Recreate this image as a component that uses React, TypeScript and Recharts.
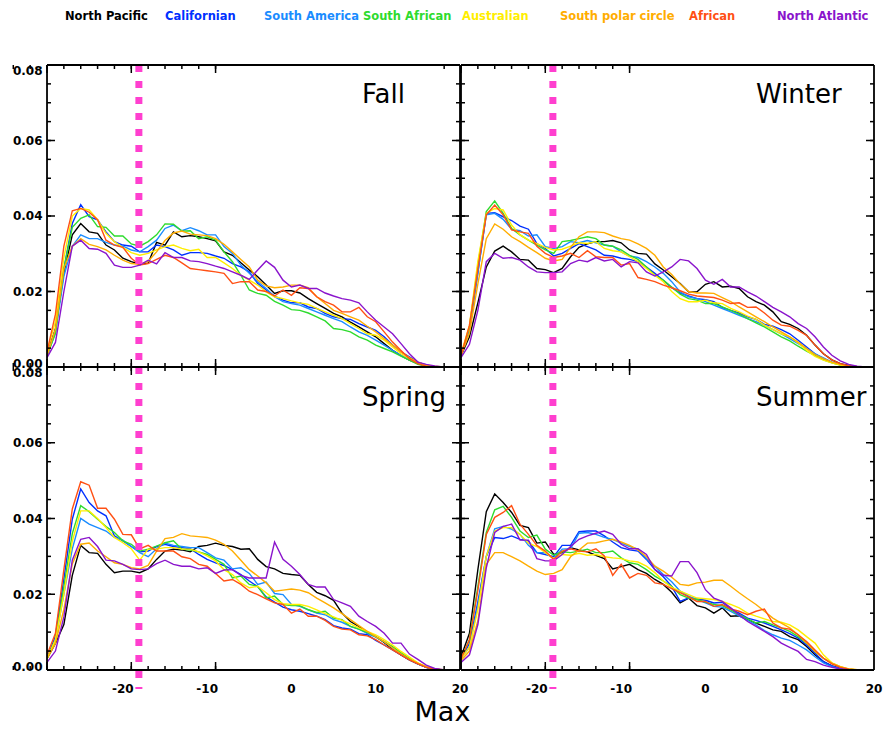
import { LineChart, Line, XAxis, YAxis, ReferenceLine } from "recharts";

// values are in thousandths (0.038 -> 38)
const xValues = [
  -29, -28, -27, -26, -25, -24, -23, -22, -21, -20,
  -19, -18, -17, -16, -15, -14, -13, -12, -11, -10,
  -9, -8, -7, -6, -5, -4, -3, -2, -1, 0,
  1, 2, 3, 4, 5, 6, 7, 8, 9, 10,
  11, 12, 13, 14, 15, 16, 17, 18, 19, 20,
];

const regionNames = [
  "North Pacific", "Californian", "South America", "South African",
  "Australian", "South polar circle", "African", "North Atlantic",
];
const regionColors = ["#000000", "#0030ff", "#1a8cff", "#2edb2e", "#ffee00", "#ffad00", "#ff5014", "#8a14cc"];
const legendX = [65, 165, 264, 363, 462, 560, 689, 777];

const X_MAJOR = [-20, -10, 0, 10, 20];
const X_LABELS = ["-20", "-10", "0", "10", "20"];
const X_MINOR = [-28, -26, -24, -22, -20, -18, -16, -14, -12, -10, -8, -6, -4, -2, 0, 2, 4, 6, 8, 10, 12, 14, 16, 18, 20];
const Y_MAJOR = [0, 20, 40, 60, 80];
const Y_LABELS = ["0.00", "0.02", "0.04", "0.06", "0.08"];
const Y_MINOR = [0, 5, 10, 15, 20, 25, 30, 35, 40, 45, 50, 55, 60, 65, 70, 75, 80];
const markerX = -18.1;

// Fall
const fallNorthPacific = [3.5, 10, 25, 35, 38, 35.8, 35.4, 32.3, 31, 28.8, 27.9, 27.2, 27.5, 33, 32.3, 35.8, 34.5, 34.8, 34.5, 34, 33.4, 30.5, 29.6, 27.6, 25.7, 23.9, 21.7, 19.5, 20.2, 20.2, 19.6, 18.1, 16.8, 15.5, 14.2, 13.3, 11.9, 10.6, 9.3, 8, 6.2, 4.4, 3, 1.8, 0.9, 0.3, 0.1, 0, 0, 0];
const fallCalifornian = [3, 10, 26, 38, 43, 39.8, 39, 35.8, 33.2, 32.3, 32, 30.5, 30.5, 32.3, 31.9, 31, 29.6, 30.3, 30.3, 30.1, 29.4, 28.8, 27.4, 26.5, 25.2, 22.1, 20.4, 18.8, 17.7, 17, 17, 15.9, 15.5, 14.2, 13.3, 12.8, 12.6, 11.5, 10.6, 9.7, 8, 5.8, 4, 2.7, 1.3, 0.5, 0.1, 0, 0, 0];
const fallSouthAmerica = [3, 9, 24, 32, 35, 34, 34, 33, 32.3, 32, 31, 30.5, 31.9, 33.6, 36.7, 37.6, 36.1, 36.9, 36.1, 35, 35, 31.9, 30.1, 27, 24.8, 22.6, 20.8, 18.6, 17.3, 16.8, 16.4, 15.5, 14.6, 13.7, 12.8, 12, 10.6, 9.3, 8.4, 7.1, 5.8, 4.4, 3.1, 1.9, 1.1, 0.4, 0.1, 0, 0, 0];
const fallSouthAfrican = [3, 9, 26, 37, 39.4, 40.3, 37.2, 37, 34.7, 34.7, 32.6, 32, 33.2, 35, 37.9, 37.8, 36, 36.1, 34, 34.5, 33.6, 30.5, 27.9, 24.3, 20.4, 19.5, 19, 17.4, 16.4, 15.2, 15, 14.3, 13.3, 12.2, 10.2, 9.9, 9.3, 8, 7.1, 5.8, 4.9, 4, 2.9, 1.8, 0.7, 0.2, 0, 0, 0, 0];
const fallAustralian = [4, 12, 29, 40, 42, 41.6, 39, 35.4, 33.2, 31.6, 30.3, 29.6, 30.1, 31, 31.9, 32.3, 31.4, 30.8, 31.2, 29, 29, 27.6, 26.1, 24.3, 23, 21.7, 19.9, 18.6, 18.1, 17.5, 17, 16.6, 15.5, 14.6, 13.7, 12.8, 11.5, 10.2, 8.8, 8.4, 7.1, 5.3, 3.5, 2.2, 1.2, 0.4, 0.1, 0, 0, 0];
const fallSouthPolar = [3, 10, 26, 32, 34, 32.5, 31.9, 31, 29.6, 28.3, 27.4, 27.2, 28, 30.5, 33.5, 35.5, 36, 35.2, 35, 34.8, 34, 32.5, 30.5, 28.5, 26.5, 23, 21.5, 21, 21.2, 21.7, 21.7, 21, 18.6, 16.8, 15, 14.2, 13.3, 12.4, 10.8, 9.3, 7.5, 5.8, 4, 2.5, 1.3, 0.5, 0.2, 0, 0, 0];
const fallAfrican = [4, 14, 32, 41.4, 42, 41, 39, 33.6, 32.3, 31.7, 28.8, 27, 27.4, 28.5, 29.6, 29, 27.6, 26.1, 25.8, 25.5, 25.2, 24.8, 22.1, 22.6, 22.6, 20.4, 20, 18.8, 20.4, 19, 21, 20.8, 18.6, 17.3, 16.4, 14.6, 14.6, 15.8, 13.3, 12, 9.3, 6.6, 4.4, 2.2, 0.9, 0.2, 0, 0, 0, 0];
const fallNorthAtlantic = [2.5, 6.5, 20, 32, 33.6, 31.4, 31.2, 30.1, 27, 26.4, 26.4, 27, 28.3, 27.3, 30.3, 29, 29, 28.1, 27.9, 27.4, 26.7, 26.1, 25.2, 24.3, 23.2, 25.7, 28.1, 26.4, 23, 21.2, 21.7, 20.8, 20.8, 19.6, 18.8, 18.1, 17.7, 17, 14.6, 12.4, 10.6, 8.8, 6.2, 3.5, 1.3, 0.7, 0.3, 0, 0, 0];

// Winter
const winterNorthPacific = [3, 8, 17, 26.5, 30.7, 32, 30.5, 28.5, 28.3, 26.1, 25.8, 25, 26.1, 29.2, 31.7, 32.6, 33.2, 33.2, 33.5, 32.9, 31, 30.1, 29.9, 27.3, 25.7, 23.9, 22.1, 19.9, 19.9, 21.9, 22.6, 21.2, 21.4, 20.8, 18.6, 17.3, 16.4, 14.6, 12, 11.3, 10.2, 8.4, 5.8, 3.5, 1.9, 0.9, 0.4, 0.1, 0, 0];
const winterCalifornian = [3, 10, 25, 40.7, 40.9, 39.8, 38.8, 37.3, 36.5, 32.7, 31.4, 29.4, 30.1, 31.4, 32.7, 31.9, 31, 29.6, 29.4, 28.8, 28.5, 27.9, 26.5, 24.8, 23, 21, 19.6, 18.8, 18.1, 17.8, 17.3, 15.8, 15, 14.3, 13.3, 12.6, 11.3, 10.8, 9.9, 8.8, 7.1, 5.3, 3.5, 2.2, 1.3, 0.6, 0.2, 0, 0, 0];
const winterSouthAmerica = [3, 10, 25, 40.3, 40.7, 39.1, 36.5, 36.1, 34.7, 35, 31.9, 31.4, 31.9, 33.2, 32.9, 33.5, 32.9, 32.3, 32, 30.5, 29.4, 29, 27.9, 26.5, 24.8, 22.6, 19.9, 18.6, 18.1, 17.3, 16.4, 15.5, 14.6, 13.7, 12.8, 12, 11.1, 9.9, 8.8, 7.5, 6.2, 4.9, 3.5, 2.4, 1.3, 0.6, 0.2, 0, 0, 0];
const winterSouthAfrican = [3, 10.6, 27, 41.2, 44, 40.7, 36.7, 35, 33.6, 32.3, 31, 30.1, 33.2, 33.5, 34, 34.5, 34, 32.3, 32, 31, 29.6, 28.5, 26.5, 24.3, 23, 21.2, 19.3, 18.1, 17.7, 16.8, 16.8, 15.9, 15, 14, 12.8, 11.7, 10.6, 9.3, 8, 6.9, 5.5, 4.2, 3.1, 1.9, 1.1, 0.5, 0.1, 0, 0, 0];
const winterAustralian = [3.5, 11, 28, 40.7, 42, 41.6, 37.6, 35, 33.6, 32.7, 31.7, 31, 31.2, 32, 32.9, 32.7, 33.2, 31.4, 30.8, 30.5, 29.2, 27.9, 26.1, 24.3, 22.6, 20, 18.1, 17.3, 17.3, 17.7, 17, 16.8, 15.5, 14.6, 13.5, 12.6, 11.1, 9.9, 8.8, 8, 6.4, 4.4, 2.8, 1.8, 1.1, 0.5, 0.2, 0, 0, 0];
const winterSouthPolar = [3, 9, 22, 34, 37.9, 36.5, 34.5, 33.2, 31.7, 30.3, 28.8, 28.1, 28.5, 31.7, 34.5, 35.8, 35.8, 35.6, 34.7, 34, 33.6, 32.6, 31.4, 29.6, 26.5, 24.5, 22, 20, 19.6, 19.6, 19.5, 18.4, 17.3, 15.9, 14.6, 13.3, 12, 10.6, 9.3, 8, 6.6, 4.9, 3.3, 2.2, 1.3, 0.7, 0.3, 0.1, 0, 0];
const winterAfrican = [3, 11, 26, 40.3, 42.9, 40.3, 36.3, 35.8, 35.4, 32, 30.1, 29, 29.4, 30.1, 29, 30.8, 29.2, 29, 29, 27, 27.4, 23.7, 23.2, 22.6, 21.7, 21, 20.2, 19.3, 18.8, 18.6, 18.4, 17.7, 16.8, 17, 15.8, 15.9, 14.3, 12.4, 11.1, 10.8, 9.7, 8.4, 5.8, 3.5, 1.9, 0.9, 0.3, 0.1, 0, 0];
const winterNorthAtlantic = [2.5, 6, 15, 27.9, 30.1, 28.8, 29, 28.3, 26.5, 25.2, 25, 25, 25.2, 27.4, 28.3, 27.9, 29, 28.1, 28.5, 26.5, 27.9, 27.6, 25.2, 24.1, 25.2, 26.5, 28.5, 28.1, 26.1, 23, 21.9, 23.2, 21.2, 21.2, 19.9, 18.8, 17.3, 15.8, 14.6, 13.3, 11.5, 10.2, 8, 5.3, 3.1, 1.6, 0.7, 0.2, 0, 0];

// Spring
const springNorthPacific = [3, 7, 12, 25, 32.9, 31, 30.8, 27.9, 25.7, 26.1, 26.1, 25.7, 26.7, 29.2, 31.4, 31.9, 31.7, 31.2, 32.6, 32.9, 33.5, 32.9, 32.6, 31.9, 32, 29.2, 27.3, 26.7, 25.5, 25.2, 25, 22.6, 20.5, 19.6, 18.4, 15, 12.8, 11.5, 9.7, 8.8, 7.3, 5.5, 4, 2.7, 1.6, 0.7, 0.2, 0, 0, 0];
const springCalifornian = [3, 9, 24, 39.8, 47.8, 44.2, 42, 40.7, 35.4, 34.1, 32.6, 31.2, 31.4, 32.6, 33.2, 32.6, 32.3, 32, 30.5, 29.2, 28.3, 27.6, 26.5, 25.2, 23.5, 22, 19.3, 17.9, 16.6, 15.9, 15.5, 14.9, 14.2, 13.3, 11.7, 11.1, 10.8, 9.6, 9.3, 7.8, 6.6, 5.3, 4, 2.7, 1.6, 0.7, 0.2, 0, 0, 0];
const springSouthAmerica = [3, 8, 20, 32, 40, 38.5, 37.6, 36.7, 35, 34.3, 32.6, 31, 29.9, 32, 33.5, 32.9, 32.6, 32.3, 32.3, 31, 29.6, 29, 26.7, 27, 25.5, 22.6, 23.2, 20.2, 19.9, 17.3, 16.8, 15.9, 15, 14.6, 13.3, 12.6, 11.5, 10.8, 9.7, 8.7, 7.5, 5.8, 4.2, 2.8, 1.6, 0.7, 0.2, 0, 0, 0];
const springSouthAfrican = [3, 8, 22, 36, 43.4, 41.8, 39.8, 37.9, 36.3, 34.1, 33.2, 31.4, 31.9, 32.7, 33.6, 34.1, 31.9, 31.7, 31.2, 30.5, 29.2, 27.9, 24.3, 24.8, 22.6, 22.1, 19, 19.5, 17.3, 17, 17, 15.9, 15.2, 15.5, 13.7, 13.3, 11.5, 10.8, 9.9, 8.8, 7.5, 6.2, 4.6, 3.1, 1.8, 0.8, 0.2, 0, 0, 0];
const springAustralian = [3, 8, 20, 34, 42, 42, 40, 37.6, 35, 33.6, 32, 29, 31.9, 31.9, 32.3, 32.3, 31.9, 31.9, 31.2, 30.1, 28.8, 26.5, 25.2, 23, 21.7, 22.1, 20.4, 18.6, 17.5, 17.3, 17.3, 16.8, 15.9, 14.9, 14, 13.1, 12.2, 11.1, 10.2, 9.3, 8, 6.6, 4.9, 3.4, 1.9, 0.8, 0.2, 0, 0, 0];
const springSouthPolar = [3, 7, 16, 28, 33.2, 33.5, 31.4, 29.9, 28.3, 27.9, 27, 26.7, 27.6, 31.4, 34.7, 35, 36, 35.4, 35.2, 35, 34.3, 33.2, 31.4, 29, 26.5, 24.8, 23, 20.8, 21.1, 21.4, 21.1, 20.4, 19, 17.7, 16.4, 14.9, 13.3, 11.7, 10.2, 8.8, 7.5, 5.8, 4.2, 2.8, 1.8, 0.9, 0.3, 0.1, 0, 0];
const springAfrican = [4, 9.7, 26.5, 42.5, 49.7, 48.8, 42.7, 42.7, 39.8, 35.8, 35.7, 32, 32.9, 31.4, 31.4, 31.4, 29.9, 29.4, 27.9, 27.4, 25.5, 23.5, 23.9, 22.6, 20.8, 19.9, 18.8, 17.7, 17.3, 15, 16.1, 14.2, 14.2, 13.1, 11.5, 10.8, 10.6, 9.3, 9, 8, 6.6, 5.3, 4, 2.7, 1.6, 0.7, 0.2, 0, 0, 0];
const springNorthAtlantic = [2, 5, 14, 29, 34.5, 35, 32.6, 29, 28.8, 27.9, 26.7, 26.5, 26.7, 28.1, 29, 27.9, 27.4, 27.4, 26.7, 27, 25.5, 26.4, 26.5, 25, 24.3, 24.3, 24.3, 33.8, 29.2, 27.4, 25.2, 22.6, 21.9, 21.9, 18.6, 17.7, 16.8, 14.2, 12.8, 11.5, 9.7, 7.1, 7.1, 4.2, 2.8, 1.3, 0.4, 0.1, 0, 0];

// Summer
const summerNorthPacific = [3.5, 9.7, 26.5, 41.8, 46.5, 44.2, 41.6, 38.2, 37.6, 33.5, 33.8, 30.5, 31, 32.3, 31.7, 31.2, 30.3, 29.4, 26.7, 27.3, 27.9, 26.5, 25.5, 23.9, 22.6, 20.5, 17.7, 19, 17, 16.4, 15, 16.4, 14.2, 14.3, 13.3, 12.4, 11.5, 10.6, 10.2, 8.8, 8, 6.2, 4, 2.2, 1.1, 0.4, 0.1, 0, 0, 0];
const summerCalifornian = [3, 7, 18, 30, 35, 34.7, 35.4, 34.5, 34.1, 31, 30.5, 29.9, 32.9, 32.9, 36.5, 36.7, 36.7, 35.4, 33.8, 32.3, 31.7, 31.4, 29.2, 26.5, 24.6, 22.1, 18.1, 19, 18.8, 18.4, 17.7, 17.9, 16.1, 15, 13.7, 13.1, 12.4, 11.5, 10.6, 9.6, 8.4, 6.6, 4.4, 2.2, 1.1, 0.4, 0.1, 0, 0, 0];
const summerSouthAmerica = [3, 6, 17, 30, 37.3, 37.9, 37.2, 35.8, 32.9, 31, 31, 29.4, 31.9, 32, 36.1, 36.3, 35.8, 35, 34.5, 33.5, 32.6, 31.9, 29.4, 27.4, 25.2, 23.3, 20.8, 19.5, 18.6, 17.7, 16.8, 16.6, 15.5, 14.3, 13.1, 11.9, 10.4, 9.3, 8.4, 7.8, 6.6, 5.3, 3.5, 1.9, 0.9, 0.3, 0.1, 0, 0, 0];
const summerSouthAfrican = [3, 8, 22, 36.3, 42.3, 43.2, 40.3, 36.7, 35, 35.6, 31.9, 30.3, 31.2, 31, 31.4, 31.9, 31, 31, 31.4, 29.6, 28.3, 27.9, 26.5, 24.8, 23.5, 22, 19.9, 19, 18.6, 17.9, 17.3, 17, 15.9, 14.6, 13.5, 12.4, 12.8, 11.9, 11.1, 10.2, 8.8, 7.1, 4.9, 3.1, 1.8, 0.8, 0.2, 0, 0, 0];
const summerAustralian = [3, 6, 16, 30, 36.7, 37.6, 37.6, 35.8, 33.5, 32.6, 31, 29.4, 30.5, 30.3, 30.8, 30.3, 30.5, 29.9, 29.6, 29.4, 28.8, 28.5, 27.4, 25.7, 23.5, 21.8, 20.8, 19.9, 19, 18.8, 18.6, 18.1, 17.3, 16.4, 15, 14.2, 13.5, 12.8, 12.6, 11.9, 10.6, 8.8, 7.1, 4, 1.9, 0.9, 0.3, 0.1, 0, 0];
const summerSouthPolar = [2.5, 5, 13, 27.9, 31, 31, 29.9, 28.8, 27.4, 26.1, 25.2, 25.5, 26.5, 29.9, 31.7, 33.5, 33.6, 34.1, 34.5, 33.8, 32.9, 31.7, 29.9, 27.4, 26.1, 24.5, 22.6, 22.3, 23, 23.2, 23.7, 23.7, 22.1, 20.4, 18.8, 17.3, 15.5, 13.7, 12.4, 11.1, 9.3, 7.1, 4.9, 3.1, 1.8, 0.9, 0.3, 0.1, 0, 0];
const summerAfrican = [3, 8, 21, 35.8, 40.3, 41.6, 43.4, 38.5, 35.8, 32.9, 31.4, 29.2, 31.4, 32, 31.4, 31.2, 32, 30.1, 25, 27.9, 24.3, 25.5, 25, 23, 22.6, 21.5, 20.4, 19.3, 18.1, 18.1, 16.8, 17.3, 16.1, 15.5, 14.6, 15.5, 16.1, 12.4, 11.1, 10.8, 9.3, 7.5, 5.3, 3.1, 1.6, 0.7, 0.2, 0, 0, 0];
const summerNorthAtlantic = [2, 4, 12, 27, 36.3, 37.9, 38.5, 34.3, 34.3, 29.4, 28.8, 28.8, 30.5, 32.6, 34.5, 35.4, 36.1, 36.7, 35.8, 33.2, 32, 32, 30.5, 26.5, 25, 24.8, 28.6, 28.6, 25.7, 21.2, 19, 18.1, 16.4, 14.6, 12.8, 11.5, 10.2, 8.8, 7.1, 6, 4.9, 2.8, 2.2, 1.3, 0.7, 0.3, 0.1, 0, 0, 0];

const fallSeries = [fallNorthPacific, fallCalifornian, fallSouthAmerica, fallSouthAfrican, fallAustralian, fallSouthPolar, fallAfrican, fallNorthAtlantic];
const winterSeries = [winterNorthPacific, winterCalifornian, winterSouthAmerica, winterSouthAfrican, winterAustralian, winterSouthPolar, winterAfrican, winterNorthAtlantic];
const springSeries = [springNorthPacific, springCalifornian, springSouthAmerica, springSouthAfrican, springAustralian, springSouthPolar, springAfrican, springNorthAtlantic];
const summerSeries = [summerNorthPacific, summerCalifornian, summerSouthAmerica, summerSouthAfrican, summerAustralian, summerSouthPolar, summerAfrican, summerNorthAtlantic];

function toRows(series: number[][]) {
  return xValues.map((x, i) => {
    const row: Record<string, number> = { x };
    series.forEach((s, k) => {
      row["s" + k] = s[i];
    });
    return row;
  });
}

const FONT = "'DejaVu Sans', sans-serif";
const X_DOMAIN: [number, number] = [-29, 20];
const Y_DOMAIN: [number, number] = [0, 80];
const THIN = 0.01; // axes need a non-zero size to render, but should take no room
const frame = { stroke: "#000", strokeWidth: 1.8 };
const tickStroke = { stroke: "#000", strokeWidth: 1.5 };

// tick marks only, no label text
const noLabel = () => <g />;

function XTick(props: any) {
  const { x, y, payload } = props;
  const label = X_LABELS[X_MAJOR.indexOf(payload.value)];
  return (
    <text x={x} y={y + 21} textAnchor="middle" fontFamily={FONT} fontWeight="bold" fontSize={12} fill="#000">
      {label}
    </text>
  );
}

function YTick(props: any) {
  const { x, y, payload } = props;
  const label = Y_LABELS[Y_MAJOR.indexOf(payload.value)];
  const shift = payload.value === 80 ? 5.5 : payload.value === 0 ? -3 : 0;
  return (
    <text x={x} y={y + shift} dy="0.36em" textAnchor="end" fontFamily={FONT} fontWeight="bold" fontSize={12} fill="#000">
      {label}
    </text>
  );
}

type PanelProps = {
  series: number[][];
  left: number;
  top: number;
  width: number;
  height: number;
  margin: { top: number; right: number; bottom: number; left: number };
  showX: boolean;
  showY: boolean;
  markerBottom: number;
};

function Panel({ series, left, top, width, height, margin, showX, showY, markerBottom }: PanelProps) {
  const rows = toRows(series);
  const common = { type: "number" as const, domain: X_DOMAIN, allowDataOverflow: true, interval: 0 as const, height: THIN };
  const commonY = { type: "number" as const, domain: Y_DOMAIN, allowDataOverflow: true, interval: 0 as const, width: THIN };
  return (
    <div style={{ position: "absolute", left, top }}>
      <LineChart width={width} height={height} data={rows} margin={margin}>
        <XAxis xAxisId="x" dataKey="x" {...common} ticks={X_MAJOR} axisLine={false} tickLine={false} tickSize={0}
          tick={showX ? (p: any) => <XTick {...p} /> : false} />
        <XAxis xAxisId="xbM" {...common} ticks={X_MAJOR} mirror tickSize={8} tick={noLabel} axisLine={frame} tickLine={tickStroke} />
        <XAxis xAxisId="xbm" {...common} ticks={X_MINOR} mirror tickSize={4} tick={noLabel} axisLine={false} tickLine={tickStroke} />
        <XAxis xAxisId="xtM" {...common} orientation="top" ticks={X_MAJOR} mirror tickSize={8} tick={noLabel} axisLine={frame} tickLine={tickStroke} />
        <XAxis xAxisId="xtm" {...common} orientation="top" ticks={X_MINOR} mirror tickSize={4} tick={noLabel} axisLine={false} tickLine={tickStroke} />
        <YAxis yAxisId="y" {...commonY} ticks={Y_MAJOR} axisLine={false} tickLine={false} tickSize={0} tickMargin={4.5}
          tick={showY ? (p: any) => <YTick {...p} /> : false} />
        <YAxis yAxisId="ylM" {...commonY} ticks={Y_MAJOR} mirror tickSize={8} tick={noLabel} axisLine={frame} tickLine={tickStroke} />
        <YAxis yAxisId="ylm" {...commonY} ticks={Y_MINOR} mirror tickSize={4} tick={noLabel} axisLine={false} tickLine={tickStroke} />
        <YAxis yAxisId="yrM" {...commonY} orientation="right" ticks={Y_MAJOR} mirror tickSize={8} tick={noLabel} axisLine={frame} tickLine={tickStroke} />
        <YAxis yAxisId="yrm" {...commonY} orientation="right" ticks={Y_MINOR} mirror tickSize={4} tick={noLabel} axisLine={false} tickLine={tickStroke} />
        {series.map((_, k) => (
          <Line
            key={k}
            xAxisId="x"
            yAxisId="y"
            type="linear"
            dataKey={"s" + k}
            stroke={regionColors[k]}
            strokeWidth={1.4}
            dot={false}
            activeDot={false}
            isAnimationActive={false}
          />
        ))}
        <ReferenceLine
          xAxisId="x"
          yAxisId="y"
          segment={[{ x: markerX, y: 80 }, { x: markerX, y: markerBottom }]}
          ifOverflow="visible"
          stroke="#ff3fcf"
          strokeWidth={7}
          strokeDasharray="7 9"
        />
      </LineChart>
    </div>
  );
}

export default function App() {
  const topM = { top: 25, right: 10, bottom: 18, left: 47 };
  const topMR = { top: 25, right: 9, bottom: 18, left: 21 };
  const botM = { top: 27, right: 10, bottom: 59, left: 47 };
  const botMR = { top: 27, right: 9, bottom: 59, left: 21 };
  return (
    <div style={{ position: "absolute", left: 0, top: 0, width: 883, height: 729, background: "#fff", overflow: "hidden" }}>
      <Panel series={fallSeries} left={0} top={40} width={470} height={345} margin={topM} showX={false} showY markerBottom={0} />
      <Panel series={winterSeries} left={440} top={40} width={443} height={345} margin={topMR} showX={false} showY={false} markerBottom={0} />
      <Panel series={springSeries} left={0} top={340} width={470} height={389} margin={botM} showX showY markerBottom={-5} />
      <Panel series={summerSeries} left={440} top={340} width={443} height={389} margin={botMR} showX showY={false} markerBottom={-5} />
      <svg width={883} height={729} style={{ position: "absolute", left: 0, top: 0, pointerEvents: "none" }}>
        {regionNames.map((name, k) => (
          <text key={name} x={legendX[k]} y={20} fontFamily={FONT} fontWeight="bold" fontSize={11.5} fill={regionColors[k]}>
            {name}
          </text>
        ))}
        <text x={362} y={103} fontFamily={FONT} fontSize={26} fill="#000">Fall</text>
        <text x={756} y={103} fontFamily={FONT} fontSize={26} fill="#000">Winter</text>
        <text x={362} y={406} fontFamily={FONT} fontSize={26} fill="#000">Spring</text>
        <text x={756} y={406} fontFamily={FONT} fontSize={26} fill="#000">Summer</text>
        <text x={442.5} y={721} textAnchor="middle" fontFamily={FONT} fontSize={27} fill="#000">Max</text>
      </svg>
    </div>
  );
}
